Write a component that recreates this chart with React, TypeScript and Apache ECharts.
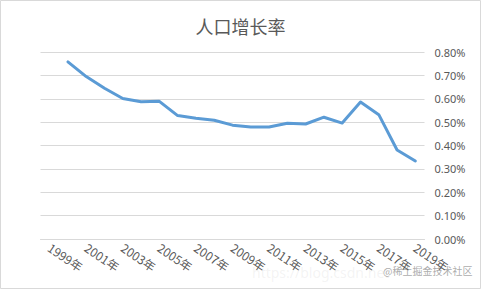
import React, { useEffect, useRef } from "react";
import * as echarts from "echarts";

const title = "人口增长率";
const years = ["1999年","2000年","2001年","2002年","2003年","2004年","2005年","2006年","2007年","2008年","2009年","2010年","2011年","2012年","2013年","2014年","2015年","2016年","2017年","2018年","2019年"];
const growthRate: (number | null)[] = [null, 0.758, 0.695, 0.645, 0.601, 0.587, 0.589, 0.528, 0.517, 0.508, 0.487, 0.479, 0.479, 0.495, 0.492, 0.521, 0.496, 0.586, 0.532, 0.381, 0.334];
const yMax = 0.8;
const yStep = 0.1;

export default function App() {
  const ref = useRef<HTMLDivElement>(null);
  useEffect(() => {
    if (!ref.current) return;
    const chart = echarts.init(ref.current, null, { renderer: "svg" });
    chart.setOption({
      animation: false,
      backgroundColor: "#ffffff",
      title: {
        text: title,
        left: "center",
        top: 12,
        textStyle: { fontSize: 18, fontWeight: "normal", color: "#595959", fontFamily: "Noto Sans CJK SC" },
      },
      grid: { left: 40.5, right: 56.5, top: 52, bottom: 50, containLabel: false, outerBoundsMode: "none" },
      xAxis: {
        type: "category",
        data: years,
        boundaryGap: true,
        axisLine: { show: true, lineStyle: { color: "#d9d9d9", width: 1 } },
        axisTick: { show: false },
        axisLabel: {
          interval: 1,
          rotate: -34,
          margin: 7,
          fontSize: 12,
          color: "#595959",
          fontFamily: "Noto Sans CJK SC",
        },
      },
      yAxis: {
        type: "value",
        position: "right",
        min: 0,
        max: yMax,
        interval: yStep,
        axisLine: { show: false },
        axisTick: { show: false },
        splitLine: { lineStyle: { color: "#d9d9d9", width: 1 } },
        axisLabel: {
          margin: 10,
          fontSize: 11,
          color: "#595959",
          fontFamily: "Noto Sans",
          formatter: (v: number) => v.toFixed(2) + "%",
        },
      },
      series: [
        {
          type: "line",
          data: growthRate,
          showSymbol: false,
          symbol: "none",
          connectNulls: false,
          lineStyle: { color: "#5b9bd5", width: 3, cap: "round", join: "round" },
        },
      ],
      graphic: [
        {
          type: "rect",
          shape: { x: 0.5, y: 0.5, width: 480, height: 288 },
          style: { fill: "none", stroke: "#d9d9d9", lineWidth: 1 },
          silent: true,
        },
        {
          type: "text",
          x: 252,
          y: 265,
          style: { text: "https://blog.csdn.net", fontSize: 14, fill: "rgba(170,170,170,0.14)", fontFamily: "Noto Sans" },
          silent: true,
        },
        {
          type: "text",
          x: 383,
          y: 265,
          style: { text: "@稀土掘金技术社区", fontSize: 10, fill: "rgba(150,150,150,0.8)", fontFamily: "Noto Sans CJK SC" },
          silent: true,
        },
      ],
    });
    return () => chart.dispose();
  }, []);
  return <div ref={ref} style={{ position: "fixed", left: 0, top: 0, width: 481, height: 289 }} />;
}
